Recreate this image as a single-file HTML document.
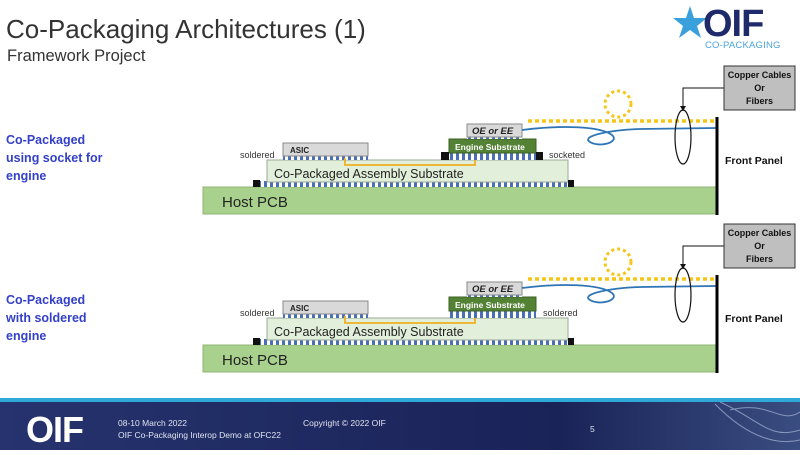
<!DOCTYPE html>
<html><head><meta charset="utf-8"><style>
body{margin:0;width:800px;height:450px;overflow:hidden;background:#fff;font-family:"Liberation Sans",sans-serif}
</style></head><body>
<svg width="800" height="450" viewBox="0 0 800 450" xmlns="http://www.w3.org/2000/svg" font-family="Liberation Sans, sans-serif">
<defs>
<pattern id="bump" x="0" y="0" width="6" height="6" patternUnits="userSpaceOnUse">
<rect width="6" height="6" fill="#fff"/><rect width="3" height="6" fill="#4a6fb5"/></pattern>
<g id="diag">
  <rect x="203" y="187" width="513" height="27" fill="#a9d18e" stroke="#8fb573"/>
  <text x="222" y="207" font-size="15" fill="#222">Host PCB</text>
  <rect x="260" y="181" width="308" height="6" fill="url(#bump)"/>
  <rect x="267" y="160" width="301" height="22" fill="#e2efda" stroke="#9aaa9a"/>
  <text x="274" y="178" font-size="12.5" fill="#222">Co-Packaged Assembly Substrate</text>
  <rect x="283" y="156" width="85" height="4" fill="url(#bump)"/>
  <rect x="283" y="143" width="85" height="13" fill="#d9d9d9" stroke="#8a8a8a"/>
  <text x="290" y="153" font-size="8" font-weight="bold" fill="#222">ASIC</text>
  <path d="M345 158 V165 H475 V158" fill="none" stroke="#f0b020" stroke-width="1.8"/>
  <rect x="450" y="153" width="86" height="7" fill="url(#bump)"/>
  <rect x="449" y="139" width="87" height="14" fill="#548235" stroke="#3d6026"/>
  <text x="455" y="150" font-size="8.5" font-weight="bold" fill="#fff">Engine Substrate</text>
  <rect x="467" y="137" width="55" height="2" fill="url(#bump)"/>
  <rect x="467" y="124" width="55" height="13" fill="#d9d9d9" stroke="#8a8a8a"/>
  <text x="472" y="134" font-size="9.5" font-weight="bold" font-style="italic" fill="#222">OE or EE</text>
  <text x="240" y="158" font-size="9" fill="#333">soldered</text>
  <line x1="528" y1="121" x2="716" y2="121" stroke="#f5c518" stroke-width="3.5" stroke-dasharray="4,3"/>
  <circle cx="618" cy="104" r="13" fill="none" stroke="#f5c518" stroke-width="3" stroke-dasharray="3,3"/>
  <path d="M522 130 C560 125 600 126 612 135 C620 142 600 148 590 142 C580 136 610 130 640 129 L716 128" fill="none" stroke="#2e75b6" stroke-width="1.8"/>
  <ellipse cx="683" cy="137" rx="8" ry="27" fill="none" stroke="#111" stroke-width="1.2"/>
  <path d="M724 88 H683 V108" fill="none" stroke="#111" stroke-width="1"/>
  <path d="M680 106 L683 111 L686 106 Z" fill="#111"/>
  <rect x="724" y="66" width="71" height="44" fill="#bfbfbf" stroke="#333"/>
  <text x="759.5" y="78" font-size="9" font-weight="bold" text-anchor="middle" fill="#111">Copper Cables</text>
  <text x="759.5" y="91" font-size="9" font-weight="bold" text-anchor="middle" fill="#111">Or</text>
  <text x="759.5" y="104" font-size="9" font-weight="bold" text-anchor="middle" fill="#111">Fibers</text>
  <line x1="717" y1="117" x2="717" y2="215" stroke="#000" stroke-width="3"/>
  <text x="725" y="164" font-size="10.5" font-weight="bold" fill="#111">Front Panel</text>
</g>
</defs>
<text x="6" y="38" font-size="26" fill="#333">Co-Packaging Architectures (1)</text>
<text x="7" y="61" font-size="16.5" fill="#333">Framework Project</text>
<!-- logo -->
<polygon points="690,6 694,18 707,18 697,26 701,38 690,30 679,38 683,26 673,18 686,18" fill="#3aa0dc"/>
<text x="703" y="36" font-size="38" font-weight="bold" fill="#1f2a6b" letter-spacing="-1">OIF</text>
<text x="705" y="48" font-size="9.5" fill="#4aa3df" letter-spacing="0.2">CO-PACKAGING</text>
<g font-size="12.5" font-weight="bold" fill="#3340c8">
<text x="6" y="144">Co-Packaged</text><text x="6" y="162">using socket for</text><text x="6" y="180">engine</text>
<text x="6" y="304">Co-Packaged</text><text x="6" y="322">with soldered</text><text x="6" y="340">engine</text>
</g>
<use href="#diag"/>
<rect x="441" y="152" width="8" height="8" fill="#111"/><rect x="536" y="152" width="7" height="8" fill="#111"/>
<rect x="253" y="180" width="7" height="7" fill="#111"/><rect x="568" y="180" width="6" height="7" fill="#111"/>
<text x="549" y="158" font-size="9" fill="#333">socketed</text>
<use href="#diag" y="158"/>
<rect x="253" y="338" width="7" height="7" fill="#111"/><rect x="568" y="338" width="6" height="7" fill="#111"/>
<text x="543" y="316" font-size="9" fill="#333">soldered</text>
<!-- footer -->
<defs><linearGradient id="ft" x1="0" x2="1"><stop offset="0" stop-color="#26336e"/><stop offset="0.7" stop-color="#1a2358"/><stop offset="1" stop-color="#3a4d80"/></linearGradient></defs>
<rect x="0" y="398" width="800" height="4" fill="#2fa9d8"/>
<rect x="0" y="402" width="800" height="48" fill="url(#ft)"/>
<path d="M720 402 C760 420 770 440 800 430 M730 410 C770 400 780 425 800 412 M715 404 C750 440 780 445 800 440" stroke="#aab8d8" stroke-width="1" fill="none" opacity="0.7"/>
<text x="26" y="442" font-size="36" font-weight="bold" fill="#fff" letter-spacing="-1">OIF</text>
<text x="118" y="426" font-size="8.5" fill="#e0e4f0">08-10 March 2022</text>
<text x="118" y="438" font-size="8.5" fill="#e0e4f0">OIF Co-Packaging Interop Demo at OFC22</text>
<text x="303" y="426" font-size="8.5" fill="#e0e4f0">Copyright © 2022 OIF</text>
<text x="590" y="432" font-size="8.5" fill="#e0e4f0">5</text>
</svg>
</body></html>
